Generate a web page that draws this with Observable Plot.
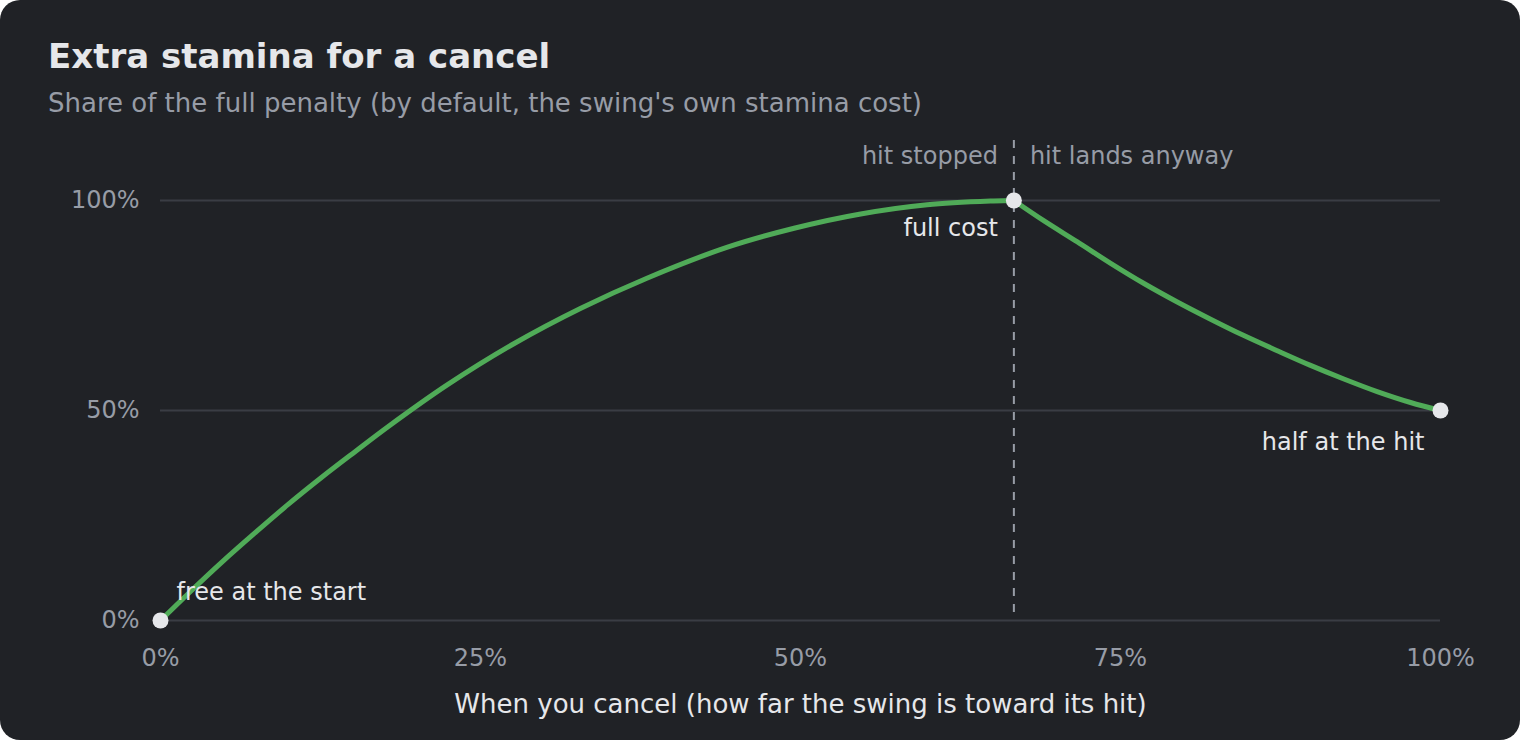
<!DOCTYPE html>
<html><head><meta charset="utf-8">
<script src="https://cdn.jsdelivr.net/npm/d3@7"></script>
<script src="https://cdn.jsdelivr.net/npm/@observablehq/plot@0.6"></script>
<style>
html,body{margin:0;padding:0;background:#ffffff;}
#card{position:relative;width:1520px;height:740px;background:#202226;border-radius:20px;overflow:hidden;font-family:"DejaVu Sans",sans-serif;}
#title{position:absolute;left:48px;top:39px;font-size:34px;line-height:34px;font-weight:bold;color:#e6e7ea;white-space:nowrap;}
#subtitle{position:absolute;left:48px;top:90px;font-size:26px;line-height:26px;color:#979ca6;white-space:nowrap;}
#chart{position:absolute;left:0;top:125px;}
</style>
</head><body>
<div id="card">
  <div id="title">Extra stamina for a cancel</div>
  <div id="subtitle">Share of the full penalty (by default, the swing's own stamina cost)</div>
  <div id="chart"></div>
</div>
<script>
// Curve: x = how far the swing is toward its hit, y = share of full penalty
const beforeX = [0, 0.022, 0.048, 0.074, 0.100, 0.126, 0.152, 0.178, 0.224, 0.276, 0.328, 0.380, 0.443, 0.495, 0.547, 0.599, 0.651, 0.6667];
const beforeY = [0, 0.065, 0.139, 0.209, 0.277, 0.341, 0.402, 0.462, 0.561, 0.659, 0.743, 0.815, 0.889, 0.934, 0.968, 0.990, 0.999, 1];
const afterX  = [0.6667, 0.690, 0.716, 0.742, 0.768, 0.794, 0.820, 0.846, 0.872, 0.898, 0.9245, 0.9505, 0.9766, 1];
const afterY  = [1, 0.952, 0.902, 0.851, 0.803, 0.759, 0.718, 0.679, 0.643, 0.608, 0.575, 0.545, 0.519, 0.5];

const hitAt = 0.6667;
const keyX = [0, 0.6667, 1];
const keyY = [0, 1, 0.5];

const xTicks = [0, 0.25, 0.5, 0.75, 1];
const yTicks = [0, 0.5, 1];
const xLabel = "When you cancel (how far the swing is toward its hit)";
const sideLabels = ["hit stopped", "hit lands anyway"];
const pointLabels = ["free at the start", "full cost", "half at the hit"];

const curveData = [
  ...beforeX.map((x, i) => ({x, y: beforeY[i], phase: "before"})),
  ...afterX.map((x, i) => ({x, y: afterY[i], phase: "after"}))
];
const keyData = keyX.map((x, i) => ({x, y: keyY[i]}));
const pct = d => Math.round(d * 100) + "%";

const LIGHT = "#e6e7ea", GRAY = "#979ca6";

const chart = Plot.plot({
  width: 1520, height: 615,
  marginLeft: 160, marginRight: 80, marginTop: 75, marginBottom: 120,
  style: {background: "transparent", fontFamily: "DejaVu Sans, sans-serif", fontSize: "24px", color: GRAY, overflow: "visible"},
  x: {domain: [0, 1]},
  y: {domain: [0, 1]},
  marks: [
    Plot.ruleY(yTicks, {stroke: "#3a3d44", strokeWidth: 2}),
    Plot.axisY({ticks: yTicks, tickFormat: pct, tickSize: 0, tickPadding: 21, label: null, fill: GRAY}),
    Plot.axisX({ticks: xTicks, tickFormat: pct, tickSize: 0, tickPadding: 28, label: null, fill: GRAY}),
    Plot.text([xLabel], {frameAnchor: "bottom", lineAnchor: "middle", dy: 84, fill: LIGHT, fontSize: 26}),
    Plot.ruleX([hitAt], {y1: 1, y2: 0, insetTop: -60, insetBottom: 8, stroke: GRAY, strokeWidth: 2, strokeDasharray: "8,8"}),
    Plot.line(curveData, {x: "x", y: "y", z: "phase", curve: "catmull-rom", stroke: "#50ab58", strokeWidth: 5}),
    Plot.dot(keyData, {x: "x", y: "y", r: 8, fill: LIGHT, stroke: null}),
    Plot.text([sideLabels[0]], {x: () => hitAt, y: () => 1, textAnchor: "end", dx: -16, dy: -44, fill: GRAY}),
    Plot.text([sideLabels[1]], {x: () => hitAt, y: () => 1, textAnchor: "start", dx: 16, dy: -44, fill: GRAY}),
    Plot.text([pointLabels[0]], {x: () => keyX[0], y: () => keyY[0], textAnchor: "start", dx: 16, dy: -28, fill: LIGHT}),
    Plot.text([pointLabels[1]], {x: () => keyX[1], y: () => keyY[1], textAnchor: "end", dx: -16, dy: 28, fill: LIGHT}),
    Plot.text([pointLabels[2]], {x: () => keyX[2], y: () => keyY[2], textAnchor: "end", dx: -16, dy: 32, fill: LIGHT})
  ]
});
document.getElementById("chart").appendChild(chart);
</script>
</body></html>
